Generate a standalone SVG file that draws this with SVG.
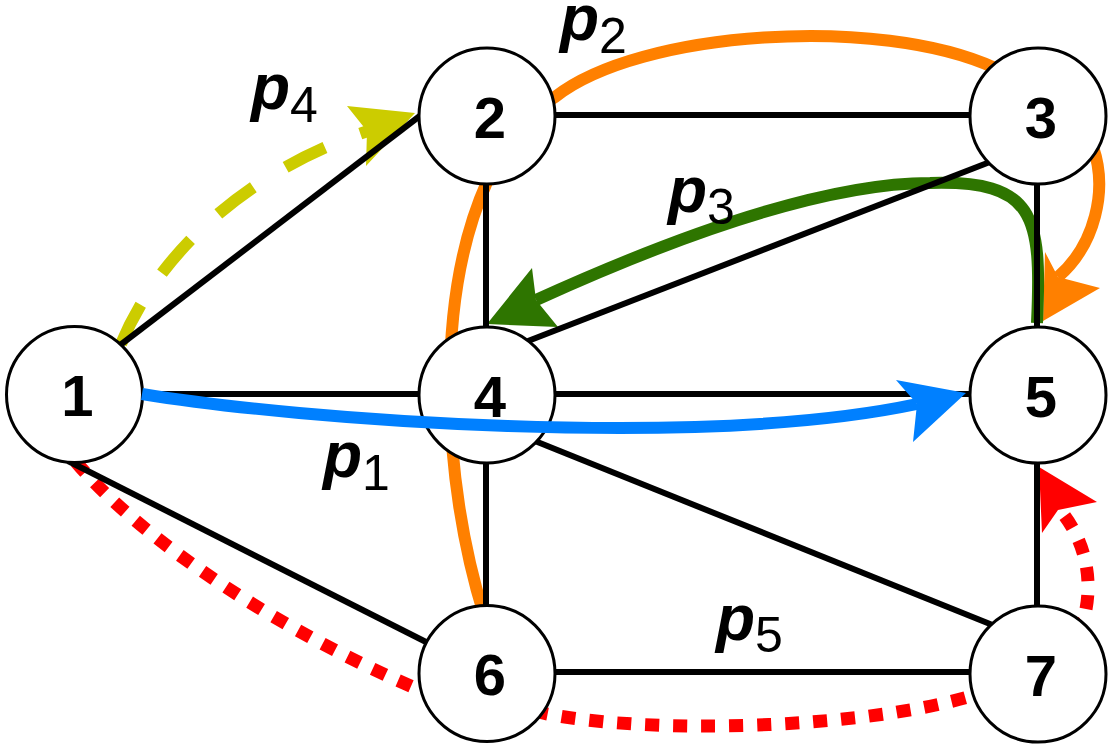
<svg xmlns="http://www.w3.org/2000/svg" width="1117" height="751" viewBox="0 0 1117 751">
<style>
.edge{stroke:#000;stroke-width:6;fill:none}
.node circle{fill:#fff;stroke:#000;stroke-width:3}
.node text{font-family:"Liberation Sans",Arial,sans-serif;font-weight:bold;font-size:58px;text-anchor:middle;fill:#000}
.route{fill:none;stroke-width:12}
.lbl{font-family:"Liberation Sans",Arial,sans-serif;font-weight:bold;font-style:italic;font-size:64px;fill:#000}
.sub{font-weight:normal;font-style:normal;font-size:50px}
</style>
<rect width="1117" height="751" fill="#fff"/>
<g id="connectors">
  <g id="routes-under">
    <path id="p2" class="route" stroke="#ff8000" d="M484,615 C442,480 434,300 487,182 L550,100 L555,97 C640,30 880,15 995,68 L1093,147 C1108,190 1095,245 1058,277"/>
    <polygon fill="#ff8000" points="1043,321 1045,252 1058,277 1100,288"/>
    <path id="p3" class="route" stroke="#2e7500" d="M1037,323 C1042,215 1035,180 930,183 C830,183 690,230 536,300"/>
    <polygon fill="#2e7500" points="487,324 532,268 536,300 558,327"/>
    <path id="p4" class="route" stroke="#cccc00" stroke-dasharray="44 38" d="M121,344 C160,250 250,170 368,131"/>
    <polygon fill="#cccc00" points="415,113 347,106 367,131 366,166"/>
    <path id="p5" fill="none" stroke="#ff0000" stroke-width="13" stroke-dasharray="14 14" d="M76,462 C150,550 300,640 420,690 L538,712 C640,735 860,730 975,695 L1083,622 C1095,580 1085,540 1060,510"/>
    <polygon fill="#ff0000" points="1039,467 1097,502 1058,510 1042,533"/>
  </g>
  <g id="edges">
    <line class="edge" x1="115" y1="349" x2="425" y2="112"/>
    <line class="edge" x1="74" y1="394" x2="487" y2="394"/>
    <line class="edge" x1="68" y1="461" x2="430" y2="644"/>
    <line class="edge" x1="487" y1="115" x2="1038" y2="115"/>
    <line class="edge" x1="486" y1="116" x2="486" y2="395"/>
    <line class="edge" x1="528" y1="341" x2="995" y2="160"/>
    <line class="edge" x1="1037" y1="116" x2="1037" y2="395"/>
    <line class="edge" x1="487" y1="394" x2="1038" y2="394"/>
    <line class="edge" x1="486" y1="395" x2="486" y2="673"/>
    <line class="edge" x1="530" y1="439" x2="995" y2="626"/>
    <line class="edge" x1="1037" y1="395" x2="1037" y2="674"/>
    <line class="edge" x1="487" y1="672" x2="1038" y2="672"/>
  </g>
</g>
<g id="node1" class="node"><circle cx="74.5" cy="394.5" r="68"/><text x="77.5" y="415.5">1</text></g>
<g id="node2" class="node"><circle cx="487" cy="116" r="68"/><text x="490" y="137.5">2</text></g>
<g id="node3" class="node"><circle cx="1038" cy="116" r="68"/><text x="1041" y="137.5">3</text></g>
<g id="node4" class="node"><circle cx="487" cy="395" r="68"/><text x="490" y="416.5">4</text></g>
<g id="node5" class="node"><circle cx="1038" cy="395" r="68"/><text x="1041" y="416.5">5</text></g>
<g id="node6" class="node"><circle cx="487" cy="673.5" r="68"/><text x="490" y="695">6</text></g>
<g id="node7" class="node"><circle cx="1038" cy="674" r="68"/><text x="1041" y="695.5">7</text></g>
<g id="connectors-top">
  <path id="p1" class="route" stroke="#0080ff" d="M142,394 C300,420 700,450 917,404"/>
  <polygon fill="#0080ff" points="966,393 896,380 917,404 913,442"/>
</g>
<g id="labels">
  <text class="lbl" x="323" y="477">p<tspan class="sub" dy="13">1</tspan></text>
  <text class="lbl" x="560" y="40">p<tspan class="sub" dy="13">2</tspan></text>
  <text class="lbl" x="668" y="212">p<tspan class="sub" dy="12">3</tspan></text>
  <text class="lbl" x="251" y="109">p<tspan class="sub" dy="13">4</tspan></text>
  <text class="lbl" x="716" y="640">p<tspan class="sub" dy="12">5</tspan></text>
</g>
</svg>
